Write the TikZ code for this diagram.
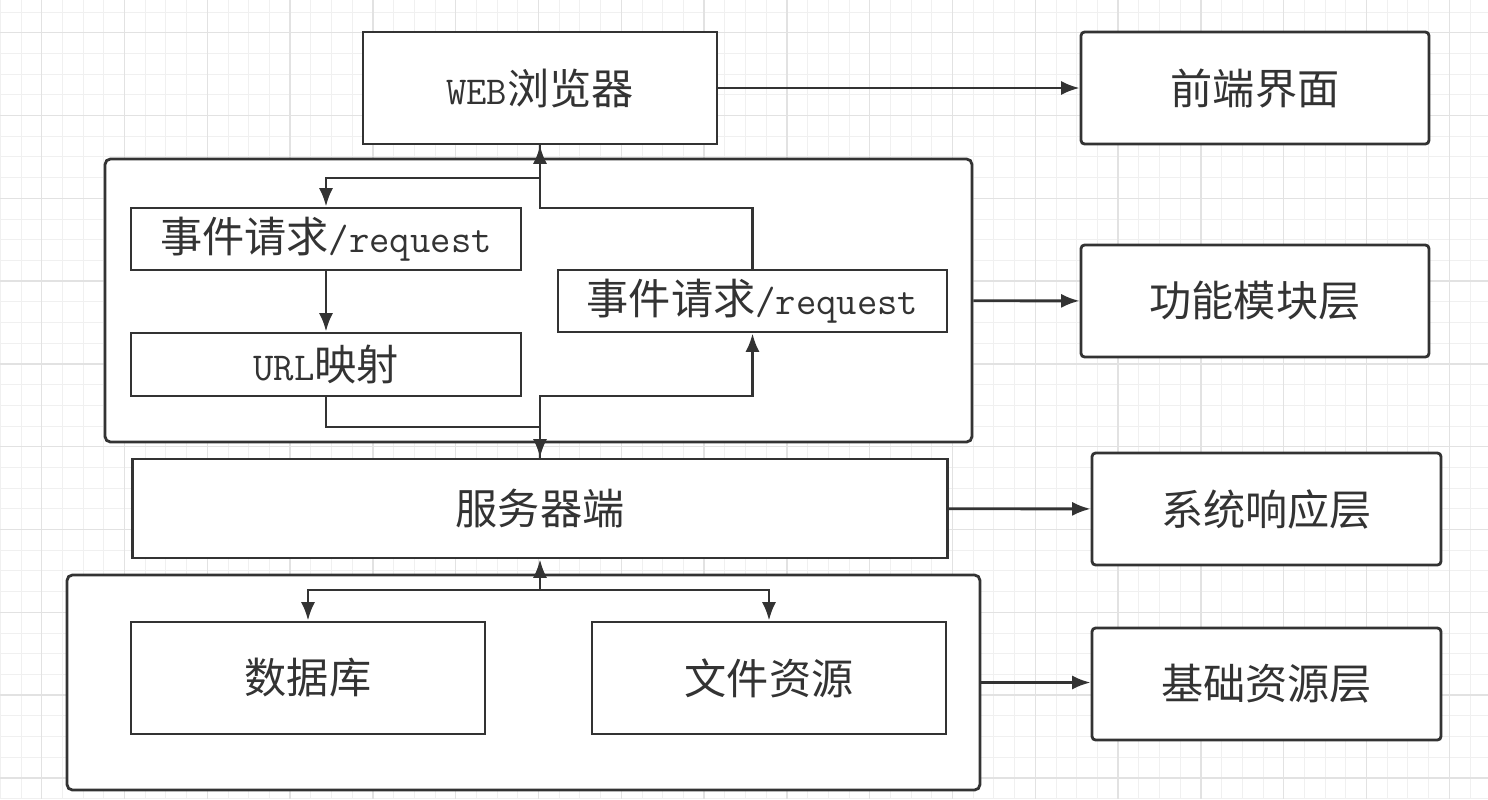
\documentclass[tikz,border=0pt]{standalone}
\usepackage{fontspec}
\setmainfont{Noto Sans CJK SC}
\usepackage{tikz}
\usetikzlibrary{arrows.meta,positioning}
\definecolor{ink}{HTML}{333333}
\definecolor{gridminor}{HTML}{F0F0F0}
\definecolor{gridmajor}{HTML}{E2E2E2}
\newfontfamily\latmono{Latin Modern Mono}
\newcommand{\lat}[1]{{\fontsize{22.5}{26}\selectfont\latmono #1}}

\begin{document}
\begin{tikzpicture}[x=0.02cm,y=-0.02cm,->,>={Latex[length=10.5pt,width=8pt]},
                    line width=1.6pt,color=ink]
  \tikzstyle{box}=[draw=ink,fill=white,text=ink,inner sep=0pt,
                   font=\fontsize{24}{28}\selectfont,minimum height=2.24cm]
  \tikzstyle{layer}=[box,rounded corners=2pt,minimum width=6.98cm]
  \tikzstyle{slim}=[box,minimum height=1.24cm,minimum width=7.8cm]
  \tikzstyle{group}=[draw=ink,fill=white,rounded corners=3pt,inner sep=0pt]

  \useasboundingbox (0,0) rectangle (1488,799);
  % grid paper
  \fill[white] (0,0) rectangle (1488,799);
  \foreach \k in {-2,...,69}
    \draw[-,gridminor,line width=0.5pt] ({41.7+20.7*\k},0) -- ++(0,799);
  \foreach \k in {-1,...,37}
    \draw[-,gridminor,line width=0.5pt] (0,{32.7+20.7*\k}) -- ++(1488,0);
  \foreach \k in {0,4,...,68}
    \draw[-,gridmajor,line width=0.7pt] ({41.7+20.7*\k},0) -- ++(0,799);
  \foreach \k in {0,4,...,36}
    \draw[-,gridmajor,line width=0.7pt] (0,{32.7+20.7*\k}) -- ++(1488,0);

  \node[group,minimum width=17.34cm,minimum height=5.66cm] (upper) at (538.5,300.5) {};
  \node[group,minimum width=18.26cm,minimum height=4.3cm]  (lower) at (523.5,682.5) {};

  \node[box,minimum width=7.08cm]  (web)  at (540,88)     {\lat{WEB}浏览器};
  \node[slim]                      (req1) at (326,239)    {事件请求\lat{/request}};
  \node[slim,minimum height=1.26cm] (url) at (326,364.5)  {\lat{URL}映射};
  \node[slim,minimum width=7.78cm] (req2) at (752.5,301)  {事件请求\lat{/request}};
  \node[box,minimum width=16.3cm,minimum height=1.98cm] (srv) at (540,508.5) {服务器端};
  \node[box,minimum width=7.08cm]  (db)   at (308,678)    {数据库};
  \node[box,minimum width=7.08cm]  (file) at (769,678)    {文件资源};

  \node[layer,minimum width=6.96cm] (front) at (1255,88)  {前端界面};
  \node[layer,minimum width=6.96cm] (func)  at (1255,301) {功能模块层};
  \node[layer] (resp) at (1266.5,509) {系统响应层};
  \node[layer] (base) at (1266.5,684) {基础资源层};

  \coordinate (upA)  at (540,178);
  \coordinate (upB)  at (540,208);
  \coordinate (dnA)  at (540,396);
  \coordinate (dnB)  at (540,427);
  \coordinate (fork) at (540,590);

  \draw (web.south) -- (upA) -| (req1.north);
  \draw (req2.north) |- (upB) -- (web.south);
  \draw (req1) -- (url);
  \draw (url.south) |- (dnB) -- (srv.north);
  \draw (srv.north) -- (dnA) -| (req2.south);
  \draw[<->] (db.north) |- (fork) -- (srv.south);
  \draw (fork) -| (file.north);

  \draw (web) -- (front);
  \draw (upper) -- (func);
  \draw (srv) -- (resp);
  \draw (lower.east) -- (lower.east -| base.west);
\end{tikzpicture}
\end{document}
